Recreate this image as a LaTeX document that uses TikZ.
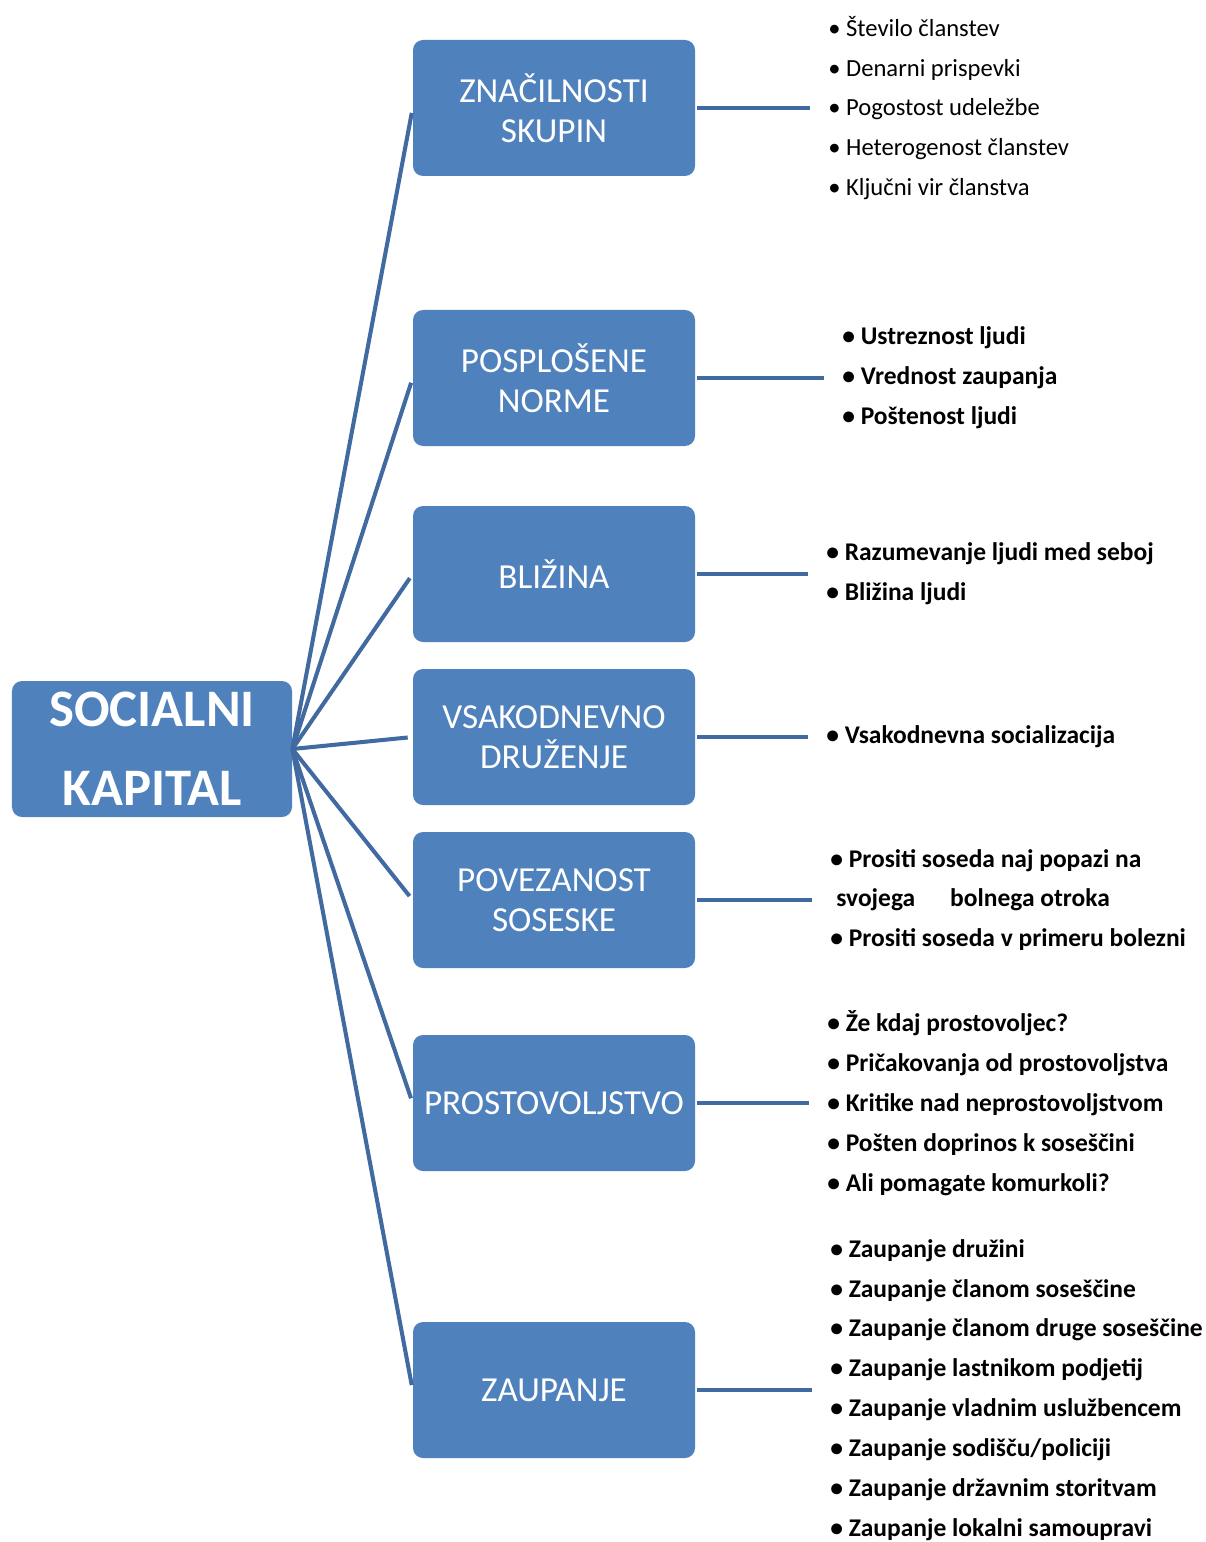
\documentclass[tikz,border=0pt]{standalone}
\usepackage{fontspec}
\setmainfont{Carlito}
\usepackage{tikz}
\usetikzlibrary{shapes,positioning}
\definecolor{boxblue}{RGB}{79,129,189}
\definecolor{lineblue}{RGB}{65,106,160}
\tikzstyle{topic} = [fill=boxblue, rounded corners=0.2cm, minimum width=5.64cm, minimum height=2.72cm, text=white, align=center, font=\fontsize{20pt}{22.7pt}\selectfont]
\tikzstyle{root} = [topic, minimum width=5.6cm, font=\fontsize{30pt}{44.8pt}\selectfont\bfseries]
\tikzstyle{items} = [anchor=west, align=left, inner xsep=0.36cm, inner ysep=0pt, font=\fontsize{14.5pt}{22.7pt}\selectfont\bfseries]
\tikzstyle{spoke} = [draw=lineblue, line width=2.3pt, shorten >=0.1cm]
\tikzstyle{twig} = [draw=lineblue, line width=2.5pt, shorten <=0.04cm]
\begin{document}
\begin{tikzpicture}
		%\draw[help lines] (0,0) grid (24,-31);
		\useasboundingbox (0,0) rectangle (24.1,-30.84);
		\node[root] (sk) at (3.04,-14.98) {SOCIALNI\\KAPITAL};
		\node[topic] (n1) at (11.08,-2.16) {ZNAČILNOSTI\\SKUPIN};
		\node[topic] (n2) at (11.08,-7.56) {POSPLOŠENE\\NORME};
		\node[topic] (n3) at (11.08,-11.48) {BLIŽINA};
		\node[topic] (n4) at (11.08,-14.74) {VSAKODNEVNO\\DRUŽENJE};
		\node[topic] (n5) at (11.08,-18.0) {POVEZANOST\\SOSESKE};
		\node[topic] (n6) at (11.08,-22.06) {PROSTOVOLJSTVO};
		\node[topic] (n7) at (11.08,-27.8) {ZAUPANJE};
		\node[items, font=\fontsize{14pt}{22.7pt}\selectfont] (l1) at (16.2,-2.16) {\textbullet\ Število članstev\\\textbullet\ Denarni prispevki\\\textbullet\ Pogostost udeležbe\\\textbullet\ Heterogenost članstev\\\textbullet\ Ključni vir članstva};
		\node[items] (l2) at (16.48,-7.56) {\textbullet\ Ustreznost ljudi\\\textbullet\ Vrednost zaupanja\\\textbullet\ Poštenost ljudi};
		\node[items] (l3) at (16.16,-11.48) {\textbullet\ Razumevanje ljudi med seboj\\\textbullet\ Bližina ljudi};
		\node[items] (l4) at (16.16,-14.74) {\textbullet\ Vsakodnevna socializacija};
		\node[items] (l5) at (16.24,-18.0) {\textbullet\ Prositi soseda naj popazi na\\\hspace*{0.12cm}svojega\hspace{0.7cm}bolnega otroka\\\textbullet\ Prositi soseda v primeru bolezni};
		\node[items] (l6) at (16.18,-22.06) {\textbullet\ Že kdaj prostovoljec?\\\textbullet\ Pričakovanja od prostovoljstva\\\textbullet\ Kritike nad neprostovoljstvom\\\textbullet\ Pošten doprinos k soseščini\\\textbullet\ Ali pomagate komurkoli?};
		\node[items] (l7) at (16.24,-27.8) {\textbullet\ Zaupanje družini\\\textbullet\ Zaupanje članom soseščine\\\textbullet\ Zaupanje članom druge soseščine\\\textbullet\ Zaupanje lastnikom podjetij\\\textbullet\ Zaupanje vladnim uslužbencem\\\textbullet\ Zaupanje sodišču/policiji\\\textbullet\ Zaupanje državnim storitvam\\\textbullet\ Zaupanje lokalni samoupravi};
		\draw[spoke] (sk.east) -- (n1.west);
		\draw[spoke] (sk.east) -- (n2.west);
		\draw[spoke] (sk.east) -- (n3.west);
		\draw[spoke] (sk.east) -- (n4.west);
		\draw[spoke] (sk.east) -- (n5.west);
		\draw[spoke] (sk.east) -- (n6.west);
		\draw[spoke] (sk.east) -- (n7.west);
		\draw[twig] (n1.east) -- (l1.west);
		\draw[twig] (n2.east) -- (l2.west);
		\draw[twig] (n3.east) -- (l3.west);
		\draw[twig] (n4.east) -- (l4.west);
		\draw[twig] (n5.east) -- (l5.west);
		\draw[twig] (n6.east) -- (l6.west);
		\draw[twig] (n7.east) -- (l7.west);
\end{tikzpicture}
\end{document}
